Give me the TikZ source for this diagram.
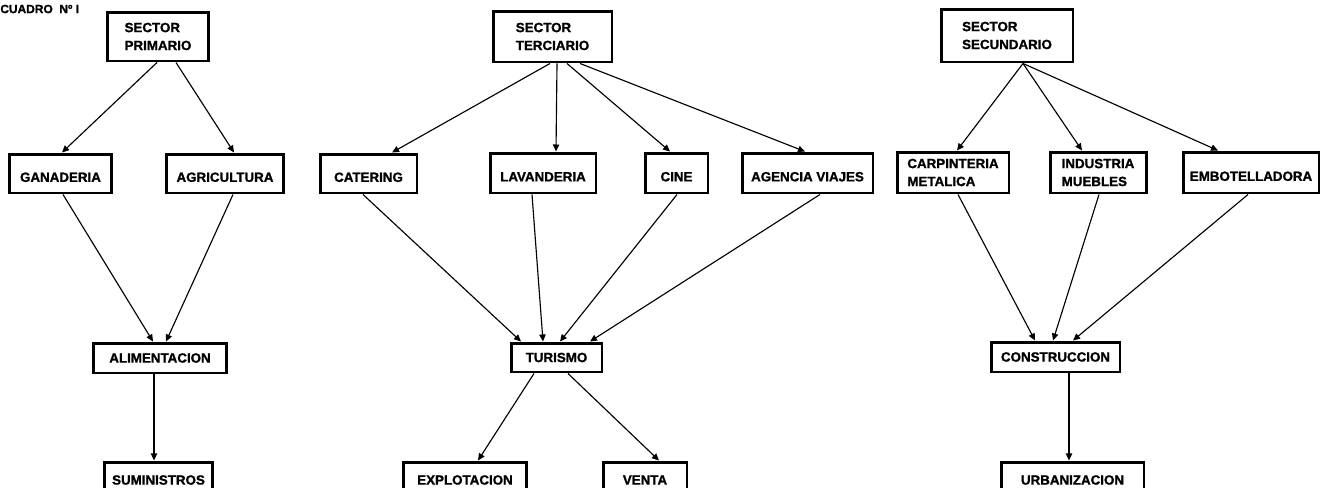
\documentclass[tikz,border=0pt]{standalone}
\usepackage{fontspec}
\setmainfont{Liberation Sans}[BoldFeatures={FakeBold=1.3}]
\usetikzlibrary{arrows.meta}
\tikzset{
  box/.style={draw, line width=1.7pt, inner sep=2pt, align=left,
    font=\bfseries\fontsize{7.6}{10.2}\selectfont},
  low/.style={text height=9.5pt, text depth=0pt},
  titletext/.style={inner sep=0pt, font=\bfseries\fontsize{6.8}{8}\selectfont},
  arr/.style={line width=0.65pt, -{Triangle[length=4pt,width=3.6pt]}}
}
\newcommand{\bx}[7][]{\node[box, #1, minimum width={(#5-#3)*0.569pt}, minimum height={(#6-#4)*0.569pt}] (#2) at ({(#3+#5)/2},{(#4+#6)/2}) {#7};}
\begin{document}
\begin{tikzpicture}[x=0.02cm, y=-0.02cm]
\useasboundingbox (0,0) rectangle (1327,487);
\clip (0,0) rectangle (1327,487);
\node[titletext, anchor=west] (title) at (0,9) {CUADRO\ \ Nº I};
\bx{spri}{107}{12}{209}{61}{SECTOR\\PRIMARIO}
\bx{ster}{493}{11}{612}{62}{SECTOR\\TERCIARIO}
\bx{ssec}{941}{9}{1073}{62}{SECTOR\\SECUNDARIO}
\bx[low]{gan}{9}{154}{112}{193}{GANADERIA}
\bx[low]{agr}{166}{154}{284}{193}{AGRICULTURA}
\bx[low]{cat}{320}{154}{417}{193}{CATERING}
\bx[low]{lav}{490}{153}{596}{193}{LAVANDERIA}
\bx[low]{cine}{645}{153}{708}{193}{CINE}
\bx[low]{age}{742}{153}{873}{193}{AGENCIA VIAJES}
\bx{car}{897}{152}{1009}{193}{CARPINTERIA\\METALICA}
\bx{ind}{1050}{152}{1146}{193}{INDUSTRIA\\MUEBLES}
\bx[low]{emb}{1183}{152}{1319}{193}{EMBOTELLADORA}
\bx{ali}{93}{343}{227}{373}{ALIMENTACION}
\bx{tur}{511}{343}{602}{372}{TURISMO}
\bx{con}{991}{342}{1120}{372}{CONSTRUCCION}
\bx{sum}{104}{462}{213}{498}{SUMINISTROS}
\bx{exp}{403}{462}{527}{498}{EXPLOTACION}
\bx{ven}{603}{462}{687}{498}{VENTA}
\bx{urb}{1001}{462}{1144}{498}{URBANIZACION}
% primario
\draw[arr] (spri.south -| 157,0) -- (gan.north -| 62,0);
\draw[arr] (spri.south -| 176,0) -- (agr.north -| 234,0);
\draw[arr] (gan.south -| 63,0) -- (ali.north -| 153,0);
\draw[arr] (agr.south -| 233,0) -- (ali.north -| 166,0);
\draw[arr] (ali.south -| 154,0) -- (sum.north -| 154,0);
% terciario
\draw[arr] (ster.south -| 550,0) -- (cat.north -| 392,0);
\draw[arr] (ster.south -| 557,0) -- (lav.north -| 556,0);
\draw[arr] (ster.south -| 567,0) -- (cine.north -| 670,0);
\draw[arr] (ster.south -| 580,0) -- (age.north -| 805,0);
\draw[arr] (cat.south -| 363,0) -- (tur.north -| 521,0);
\draw[arr] (lav.south -| 532,0) -- (tur.north -| 543,0);
\draw[arr] (cine.south -| 677,0) -- (tur.north -| 560,0);
\draw[arr] (age.south -| 820,0) -- (tur.north -| 590,0);
\draw[arr] (tur.south -| 534,0) -- (exp.north -| 478,0);
\draw[arr] (tur.south -| 568,0) -- (ven.north -| 659,0);
% secundario
\draw[arr] (ssec.south -| 1023,0) -- (car.north -| 957,0);
\draw[arr] (ssec.south -| 1023,0) -- (ind.north -| 1082,0);
\draw[arr] (ssec.south -| 1023,0) -- (emb.north -| 1218,0);
\draw[arr] (car.south -| 958,0) -- (con.north -| 1035,0);
\draw[arr] (ind.south -| 1099,0) -- (con.north -| 1053,0);
\draw[arr] (emb.south -| 1248,0) -- (con.north -| 1073,0);
\draw[arr] (con.south -| 1069,0) -- (urb.north -| 1069,0);
\end{tikzpicture}
\end{document}
